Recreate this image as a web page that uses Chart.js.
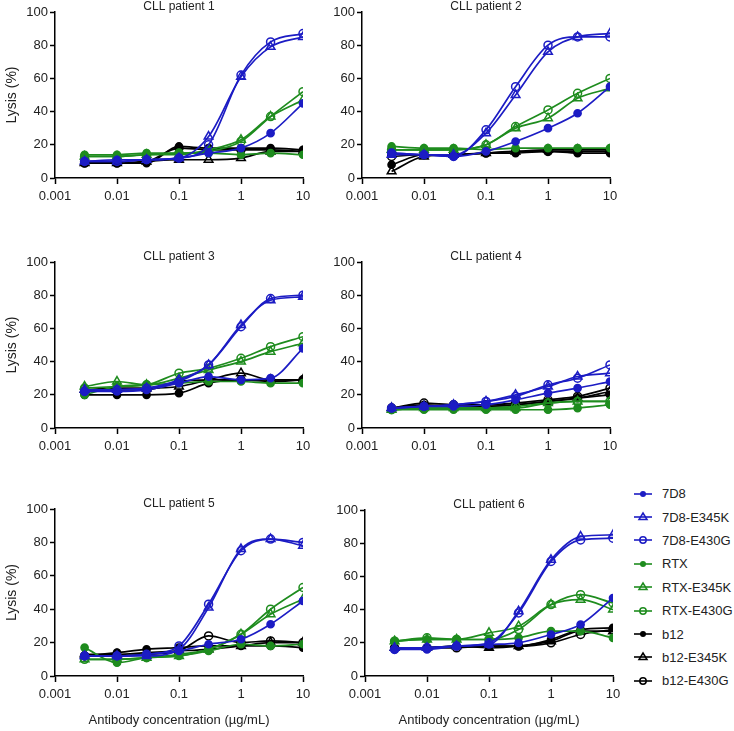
<!DOCTYPE html>
<html>
<head>
<meta charset="utf-8">
<script src="https://cdn.jsdelivr.net/npm/chart.js@4.4.0/dist/chart.umd.min.js"></script>
<style>
  body { margin: 0; background: #fff; width: 734px; height: 731px; position: relative; overflow: hidden;
         font-family: "Liberation Sans", Arial, sans-serif; }
  canvas { position: absolute; }
  #legend { position: absolute; left: 633px; top: 482px; }
  .item { height: 23.4px; display: flex; align-items: center; font-size: 13px; color: #222; }
  .item svg { margin-right: 9px; }
</style>
</head>
<body>
<div id="legend"></div>
<script>
// antibody concentrations (µg/mL)
const doses = [0.003, 0.01, 0.03, 0.1, 0.3, 1, 3, 10];
const seriesNames = ["7D8", "7D8-E345K", "7D8-E430G", "RTX", "RTX-E345K", "RTX-E430G", "b12", "b12-E345K", "b12-E430G"];
const xTickValues = [0.001, 0.01, 0.1, 1, 10];
const xTickLabels = ["0.001", "0.01", "0.1", "1", "10"];
const panelTitles = ["CLL patient 1", "CLL patient 2", "CLL patient 3", "CLL patient 4", "CLL patient 5", "CLL patient 6"];

// lysis (%), one row per series in seriesNames order
const patient1 = [
  [10, 11, 11, 12, 15, 18, 27, 45],
  [10, 10, 11, 12, 25, 61, 79, 85],
  [10, 10, 11, 12, 20, 62, 82, 87],
  [14, 14, 15, 15, 15, 14, 15, 14],
  [13, 13, 14, 14, 17, 23, 37, 47],
  [13, 13, 14, 15, 16, 22, 37, 52],
  [9, 9, 9, 19, 18, 18, 18, 17],
  [9, 9, 10, 11, 11, 12, 16, 16],
  [9, 9, 10, 18, 17, 17, 17, 16]
];
const patient2 = [
  [15, 14, 13, 16, 22, 30, 39, 55],
  [14, 14, 14, 27, 50, 76, 85, 87],
  [15, 14, 13, 29, 55, 80, 85, 85],
  [19, 18, 18, 17, 18, 18, 18, 18],
  [17, 17, 17, 20, 30, 36, 48, 54],
  [17, 17, 17, 20, 31, 41, 51, 60],
  [8, 14, 14, 15, 15, 16, 15, 15],
  [4, 13, 14, 15, 16, 17, 17, 17],
  [13, 14, 14, 15, 16, 16, 16, 16]
];
const patient3 = [
  [22, 22, 23, 27, 31, 29, 30, 48],
  [23, 23, 24, 29, 38, 62, 77, 79],
  [22, 23, 24, 28, 38, 61, 78, 80],
  [20, 25, 26, 27, 28, 28, 27, 27],
  [25, 28, 26, 30, 35, 40, 46, 51],
  [24, 25, 26, 33, 36, 42, 49, 55],
  [20, 20, 20, 21, 27, 29, 28, 29],
  [23, 24, 24, 25, 29, 33, 29, 29],
  [22, 23, 23, 28, 29, 29, 29, 29]
];
const patient4 = [
  [12, 13, 13, 14, 17, 21, 24, 28],
  [12, 13, 14, 16, 20, 25, 31, 33],
  [12, 13, 14, 16, 19, 26, 30, 38],
  [11, 11, 11, 11, 11, 11, 12, 14],
  [11, 12, 12, 12, 12, 15, 16, 16],
  [11, 12, 12, 12, 13, 15, 16, 16],
  [12, 14, 13, 13, 14, 16, 18, 20],
  [12, 13, 13, 13, 14, 16, 18, 22],
  [12, 15, 14, 14, 15, 17, 19, 24]
];
const patient5 = [
  [12, 12, 13, 15, 19, 22, 31, 45],
  [12, 12, 12, 16, 41, 76, 82, 78],
  [12, 12, 13, 18, 43, 75, 82, 80],
  [17, 8, 11, 12, 15, 19, 18, 19],
  [10, 10, 11, 12, 16, 25, 37, 46],
  [10, 10, 11, 13, 16, 25, 40, 53],
  [12, 14, 16, 17, 18, 18, 18, 17],
  [13, 13, 14, 15, 16, 18, 20, 20],
  [12, 12, 13, 15, 24, 20, 21, 20]
];
const patient6 = [
  [16, 16, 18, 19, 20, 25, 31, 47],
  [17, 17, 18, 19, 39, 70, 84, 85],
  [16, 17, 18, 20, 38, 69, 82, 83],
  [21, 22, 22, 22, 23, 27, 27, 23],
  [21, 22, 22, 26, 30, 43, 46, 40],
  [21, 23, 22, 22, 28, 43, 49, 44],
  [17, 17, 18, 18, 18, 22, 28, 29],
  [17, 17, 18, 17, 18, 21, 27, 27],
  [17, 17, 17, 18, 18, 20, 25, 28]
];
const patients = [patient1, patient2, patient3, patient4, patient5, patient6];

// styling
const BLUE = "#1c1cc4", GREEN = "#1e8c1e", BLACK = "#000000";
const seriesStyle = [
  { color: BLUE, marker: "dot" }, { color: BLUE, marker: "tri" }, { color: BLUE, marker: "ring" },
  { color: GREEN, marker: "dot" }, { color: GREEN, marker: "tri" }, { color: GREEN, marker: "ring" },
  { color: BLACK, marker: "dot" }, { color: BLACK, marker: "tri" }, { color: BLACK, marker: "ring" }
];

// panel placement: y-axis x, top (100%) y, bottom (0%) y
const panelBoxes = [
  { ax: 55, top: 12, bottom: 178, yTitle: true, xTitle: false },
  { ax: 362, top: 12, bottom: 178, yTitle: false, xTitle: false },
  { ax: 55, top: 262, bottom: 428, yTitle: true, xTitle: false },
  { ax: 362, top: 262, bottom: 428, yTitle: false, xTitle: false },
  { ax: 55, top: 509, bottom: 676, yTitle: true, xTitle: true },
  { ax: 365, top: 510, bottom: 676, yTitle: false, xTitle: true }
];

const panelTitlePlugin = {
  id: "panelTitle",
  afterDraw(chart, args, opts) {
    const ctx = chart.ctx, a = chart.chartArea;
    ctx.save();
    ctx.fillStyle = "#222";
    ctx.font = "12px 'Liberation Sans', Arial, sans-serif";
    ctx.textAlign = "center";
    ctx.textBaseline = "middle";
    ctx.fillText(opts.text, (a.left + a.right) / 2, a.top - 5);
    ctx.restore();
  }
};

const YW = 55, PLOT_W = 248, PAD_R = 20, PAD_T = 12;

panelBoxes.forEach((box, p) => {
  const xh = box.xTitle ? 56 : 37;
  const cv = document.createElement("canvas");
  const w = YW + PLOT_W + PAD_R;
  const h = PAD_T + (box.bottom - box.top) + xh;
  cv.width = w; cv.height = h;
  cv.style.left = (box.ax - YW) + "px";
  cv.style.top = (box.top - PAD_T) + "px";
  cv.style.width = w + "px"; cv.style.height = h + "px";
  document.body.appendChild(cv);

  const datasets = patients[p].map((vals, i) => {
    const st = seriesStyle[i];
    const open = st.marker !== "dot";
    return {
      label: seriesNames[i],
      data: doses.map((d, k) => ({ x: d, y: vals[k] })),
      borderColor: st.color,
      backgroundColor: open ? "rgba(0,0,0,0)" : st.color,
      borderWidth: 1.7,
      cubicInterpolationMode: "monotone",
      pointStyle: st.marker === "tri" ? "triangle" : "circle",
      pointRadius: st.marker === "tri" ? 5 : (open ? 4 : 3.6),
      pointBorderWidth: 1.5,
      pointBorderColor: st.color,
      pointBackgroundColor: open ? "rgba(0,0,0,0)" : st.color
    };
  });

  new Chart(cv.getContext("2d"), {
    type: "line",
    data: { datasets },
    plugins: [panelTitlePlugin],
    options: {
      responsive: false,
      animation: false,
      devicePixelRatio: 1,
      layout: { padding: { top: PAD_T, left: 0, right: PAD_R, bottom: 0 } },
      plugins: {
        legend: { display: false },
        tooltip: { enabled: false },
        panelTitle: { text: panelTitles[p] }
      },
      scales: {
        x: {
          type: "logarithmic",
          min: 0.001,
          max: 10,
          afterBuildTicks: (s) => { s.ticks = xTickValues.map((v) => ({ value: v, major: true })); },
          afterFit: (s) => { s.height = xh; },
          ticks: {
            color: "#222",
            font: { size: 13, family: "'Liberation Sans', Arial, sans-serif" },
            padding: 5,
            autoSkip: false,
            maxRotation: 0,
            callback: (v) => xTickLabels[xTickValues.indexOf(v)]
          },
          grid: { drawOnChartArea: false, drawTicks: true, tickLength: 6, tickColor: "#000", tickWidth: 1.5 },
          border: { color: "#000", width: 1.5 },
          title: {
            display: box.xTitle,
            text: "Antibody concentration (µg/mL)",
            color: "#222",
            font: { size: 13, family: "'Liberation Sans', Arial, sans-serif" },
            padding: { top: 4, bottom: 4 }
          }
        },
        y: {
          min: 0,
          max: 100,
          afterFit: (s) => { s.width = YW; },
          ticks: {
            stepSize: 20,
            color: "#222",
            font: { size: 13, family: "'Liberation Sans', Arial, sans-serif" },
            padding: 2
          },
          grid: { drawOnChartArea: false, drawTicks: true, tickLength: 5, tickColor: "#000", tickWidth: 1.5 },
          border: { color: "#000", width: 1.5 },
          title: {
            display: box.yTitle,
            text: "Lysis (%)",
            color: "#222",
            font: { size: 14, family: "'Liberation Sans', Arial, sans-serif" },
            padding: { top: 4, bottom: 4 }
          }
        }
      }
    }
  });
});

// legend: line with marker, then name
const legend = document.getElementById("legend");
seriesNames.forEach((name, i) => {
  const st = seriesStyle[i];
  let mk;
  if (st.marker === "dot") mk = `<circle cx="10" cy="6" r="3" fill="${st.color}"/>`;
  else if (st.marker === "ring") mk = `<circle cx="10" cy="6" r="3.2" fill="none" stroke="${st.color}" stroke-width="1.5"/>`;
  else mk = `<polygon points="10,2 14,8.5 6,8.5" fill="none" stroke="${st.color}" stroke-width="1.5"/>`;
  const row = document.createElement("div");
  row.className = "item";
  row.innerHTML = `<svg width="20" height="12"><line x1="1" y1="6" x2="19" y2="6" stroke="${st.color}" stroke-width="1.6"/>${mk}</svg><span>${name}</span>`;
  legend.appendChild(row);
});
</script>
</body>
</html>
